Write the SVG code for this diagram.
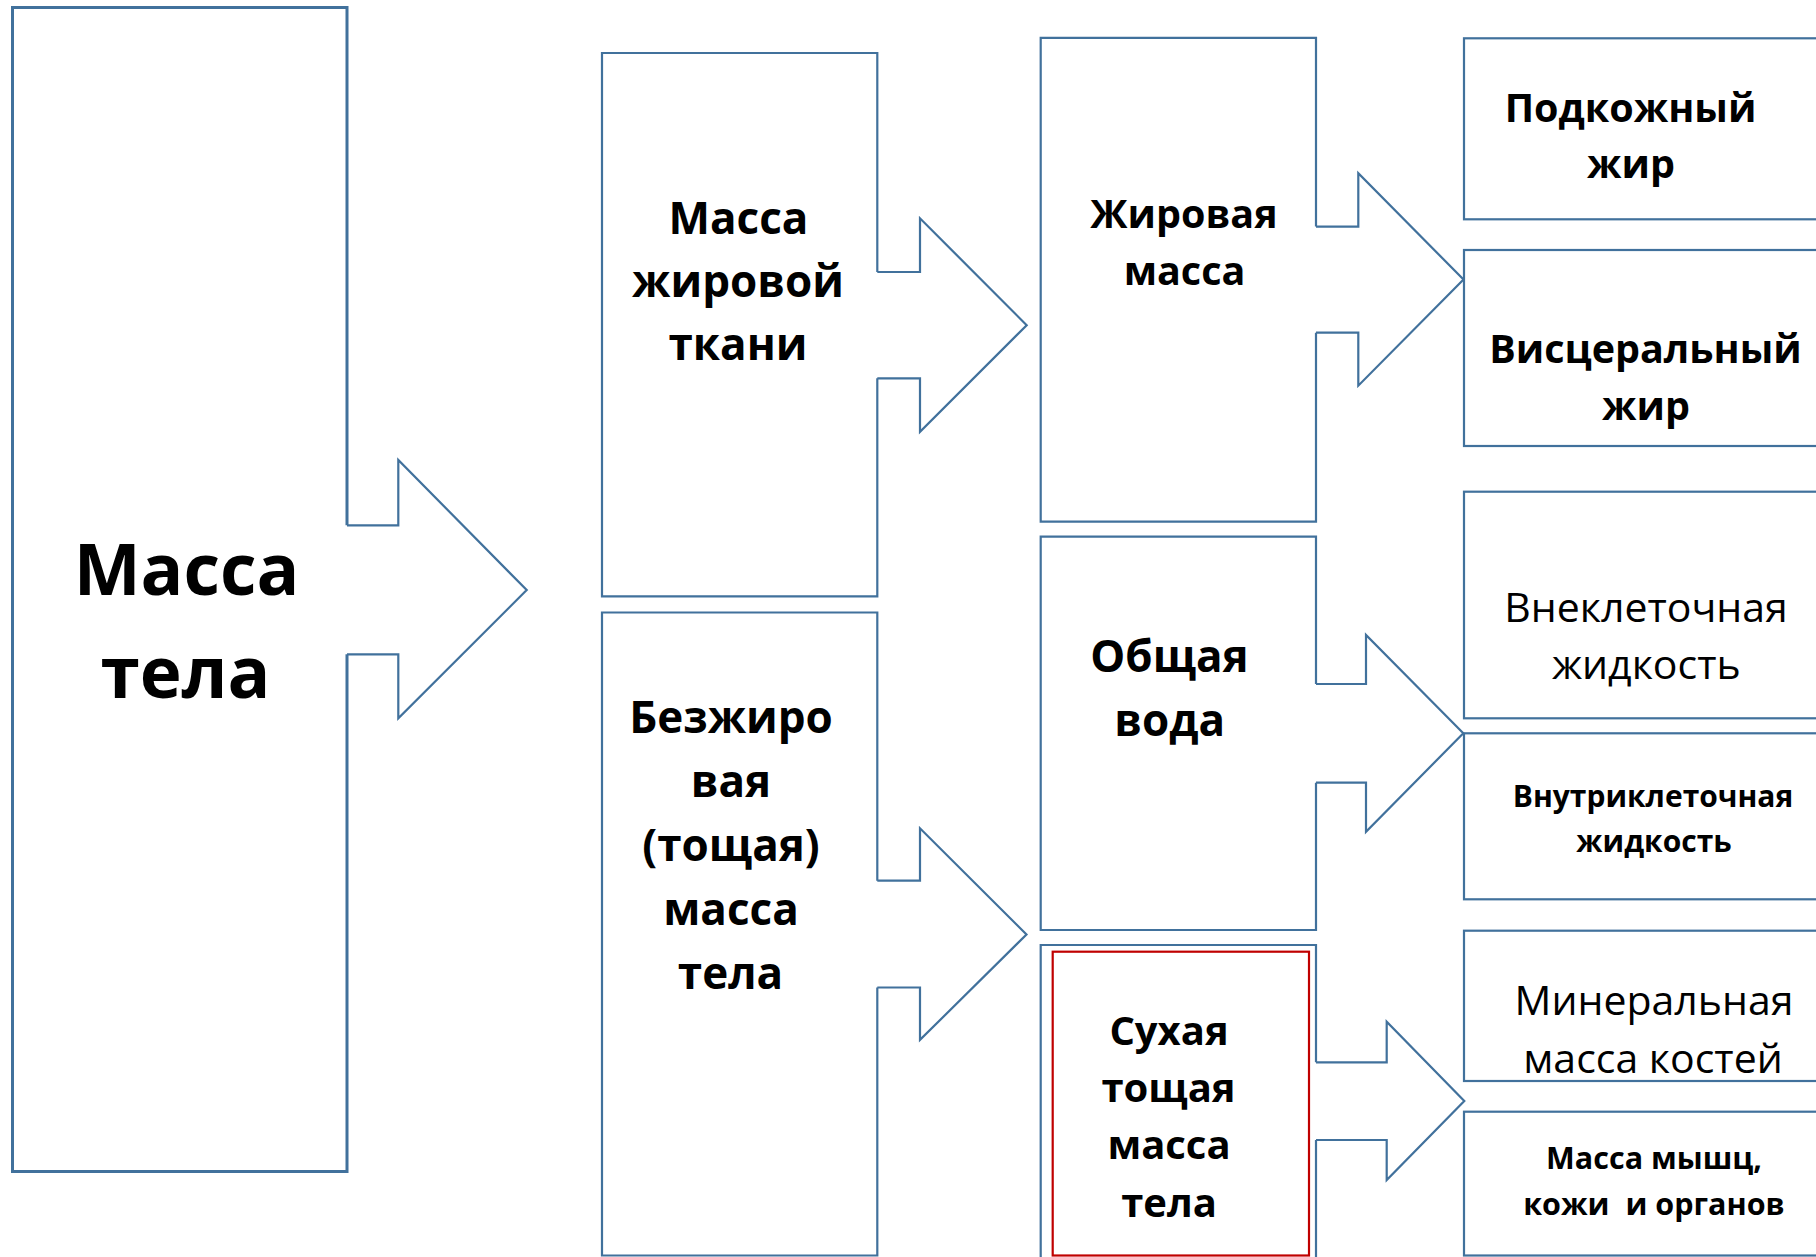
<svg xmlns="http://www.w3.org/2000/svg" width="1816" height="1257" viewBox="0 0 1816 1257">
<style>
.box{fill:none;stroke:#41719C;stroke-width:2.2;stroke-linejoin:miter}
.big{stroke-width:3}
.arr{fill:none;stroke:#41719C;stroke-width:2.2;stroke-linejoin:miter}
.red{fill:none;stroke:#C00000;stroke-width:2.2}
text{font-family:"Open Sans","Noto Sans","Liberation Sans",sans-serif;fill:#000;text-anchor:middle}
.b{font-weight:bold}
.r{font-weight:normal}
</style>
<rect width="1816" height="1257" fill="#fff"/>
<g id="nodes">
<g id="n-massa-tela">
<path class="box big" d="M347,525.3 V7.5 H12.5 V1171.5 H347 V654.3"/>
<text class="b" font-size="71"><tspan x="186.5" y="595">Масса</tspan><tspan x="185.5" y="698.3">тела</tspan></text>
</g>
<g id="n-massa-zhirovoy-tkani">
<path class="box" d="M877.3,272 V53 H602 V596.4 H877.3 V378.3"/>
<text class="b" font-size="44"><tspan x="738.5" y="233.6">Масса</tspan><tspan x="738" y="296.7">жировой</tspan><tspan x="738" y="359.9">ткани</tspan></text>
</g>
<g id="n-bezzhirovaya">
<path class="box" d="M877.3,880.7 V612.5 H602 V1255.5 H877.3 V987.5"/>
<text class="b" font-size="44"><tspan x="731" y="733.2">Безжиро</tspan><tspan x="731" y="796.9">вая</tspan><tspan x="731" y="860.6">(тощая)</tspan><tspan x="731" y="924.7">масса</tspan><tspan x="730.5" y="988.8">тела</tspan></text>
</g>
<g id="n-zhirovaya-massa">
<path class="box" d="M1316,226.6 V37.9 H1040.7 V521.7 H1316 V332.7"/>
<text class="b" font-size="39.5"><tspan x="1184" y="228.3">Жировая</tspan><tspan x="1184.5" y="285.2">масса</tspan></text>
</g>
<g id="n-obshaya-voda">
<path class="box" d="M1316,684 V536.7 H1040.7 V930 H1316 V782.7"/>
<text class="b" font-size="44"><tspan x="1169.5" y="671.7">Общая</tspan><tspan x="1169.7" y="736">вода</tspan></text>
</g>
<g id="n-suhaya">
<path class="box" d="M1316,1062.3 V945 H1040.7 V1262"/>
<path class="box" d="M1316,1140 V1262"/>
<rect class="red" x="1052.7" y="951.7" width="256.3" height="303.8"/>
<text class="b" font-size="40"><tspan x="1169" y="1045">Сухая</tspan><tspan x="1168.5" y="1101.7">тощая</tspan><tspan x="1169" y="1159.3">масса</tspan><tspan x="1169" y="1216.7">тела</tspan></text>
</g>
<g id="n-podkozhny">
<rect class="box" x="1464" y="38.3" width="380" height="181"/>
<text class="b" font-size="39.5"><tspan x="1630.5" y="121.7">Подкожный</tspan><tspan x="1631" y="178.3">жир</tspan></text>
</g>
<g id="n-visceralny">
<rect class="box" x="1464" y="250" width="380" height="196"/>
<text class="b" font-size="39.5"><tspan x="1645.5" y="363.3">Висцеральный</tspan><tspan x="1646" y="420">жир</tspan></text>
</g>
<g id="n-vnekletochnaya">
<rect class="box" x="1464" y="491.7" width="380" height="226.6"/>
<text class="r" font-size="41"><tspan x="1646" y="621.7">Внеклеточная</tspan><tspan x="1646.3" y="679.3">жидкость</tspan></text>
</g>
<g id="n-vnutrikletochnaya">
<rect class="box" x="1464" y="733.3" width="380" height="166"/>
<text class="b" font-size="30"><tspan x="1653" y="807.3">Внутриклеточная</tspan><tspan x="1654" y="852.3">жидкость</tspan></text>
</g>
<g id="n-mineralnaya">
<rect class="box" x="1464" y="930.7" width="380" height="150.3"/>
<text class="r" font-size="41"><tspan x="1654" y="1015">Минеральная</tspan><tspan x="1653" y="1073.3">масса костей</tspan></text>
</g>
<g id="n-massa-myshc">
<rect class="box" x="1464" y="1111.7" width="380" height="143.8"/>
<text class="b" font-size="30.5" style="white-space:pre"><tspan x="1654" y="1169.3">Масса мышц,</tspan><tspan x="1654" y="1215">кожи  и органов</tspan></text>
</g>
</g>
<g id="connectors">
<path class="arr" d="M347,525.3 H398.3 V460 L526.7,590 L398.3,718.3 V654.3 H347"/>
<path class="arr" d="M877.3,272 H920 V218.3 L1026.7,325.2 L920,431.8 V378.3 H877.3"/>
<path class="arr" d="M877.3,880.7 H920 V828.3 L1026.5,934.5 L920,1039.9 V987.5 H877.3"/>
<path class="arr" d="M1316,226.6 H1358.3 V173.2 L1463.5,279.5 L1358.3,385.7 V332.7 H1316"/>
<path class="arr" d="M1316,684 H1366 V635 L1463.3,733.3 L1366,831.7 V782.7 H1316"/>
<path class="arr" d="M1316,1062.3 H1386.7 V1021.7 L1464.3,1101 L1386.7,1180 V1140 H1316"/>
</g>
</svg>
